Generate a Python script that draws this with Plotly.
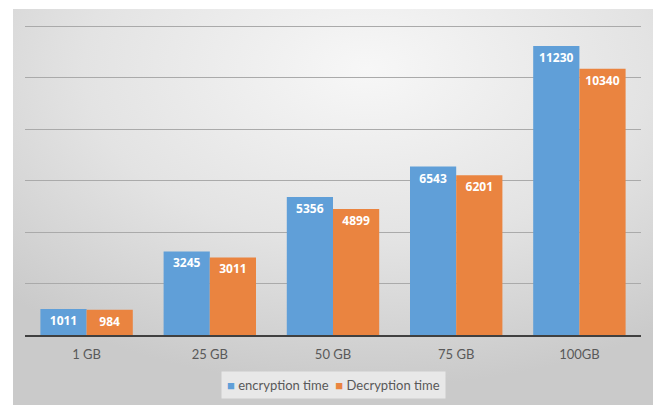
import base64
import plotly.graph_objects as go

categories = ["1 GB", "25 GB", "50 GB", "75 GB", "100GB"]
encryption = [1011, 3245, 5356, 6543, 11230]
decryption = [984, 3011, 4899, 6201, 10340]
series_names = ["encryption time", "Decryption time"]

blue = "#609fd8"
orange = "#ea8440"

svg = """<svg xmlns='http://www.w3.org/2000/svg' width='640' height='396' viewBox='0 0 640 396' preserveAspectRatio='none'>
<defs><radialGradient id='g' cx='0.55' cy='0.15' r='0.8'>
<stop offset='0' stop-color='#f7f7f7'/><stop offset='0.55' stop-color='#e3e3e3'/><stop offset='1' stop-color='#cacaca'/>
</radialGradient></defs><rect width='640' height='396' fill='url(#g)'/></svg>"""
bg_uri = "data:image/svg+xml;base64," + base64.b64encode(svg.encode()).decode()

fig = go.Figure()
for name, vals, col in [(series_names[0], encryption, blue), (series_names[1], decryption, orange)]:
    fig.add_trace(go.Bar(
        x=categories, y=vals, name=name, marker=dict(color=col, line=dict(width=0)),
        text=[str(v) for v in vals], textposition="inside", insidetextanchor="end",
        textfont=dict(color="white", size=12, family="Open Sans"),
        texttemplate="<b>%{text}</b>", showlegend=False,
    ))

legend_text = (f"<span style='color:{blue}'>■</span> {series_names[0]}  "
               f"<span style='color:{orange}'>■</span> {series_names[1]}")

# plot area: y 23..335 px (312 px tall)
fig.update_layout(
    width=653, height=405,
    margin=dict(l=25, r=12, t=23, b=70, autoexpand=False),
    paper_bgcolor="white", plot_bgcolor="rgba(0,0,0,0)",
    barmode="group", bargap=0.25, bargroupgap=0.0,
    font=dict(family="Lato", color="#595959", size=13),
    images=[dict(source=bg_uri, xref="paper", yref="paper", x=-0.0195, y=(335 - 9) / 312,
                 sizex=1.045, sizey=(407 - 9) / 312, sizing="stretch", xanchor="left", yanchor="top", layer="below")],
    annotations=[dict(text=legend_text, xref="paper", yref="paper", x=0.5, y=(335 - 385) / 312,
                      xanchor="center", yanchor="middle", showarrow=False,
                      bgcolor="#e8e8e8", borderpad=5, font=dict(family="Lato", size=13, color="#595959"))],
    xaxis=dict(showline=True, linecolor="#404040", linewidth=2, ticks="", showgrid=False,
               ticklabelstandoff=6, tickfont=dict(size=13, color="#595959")),
    yaxis=dict(range=[0, 12120], dtick=2000, showticklabels=False, showgrid=True,
               gridcolor="#aaaaaa", gridwidth=1, zeroline=False),
    uniformtext=dict(minsize=8, mode="show"),
)
fig.write_html("out.html")
